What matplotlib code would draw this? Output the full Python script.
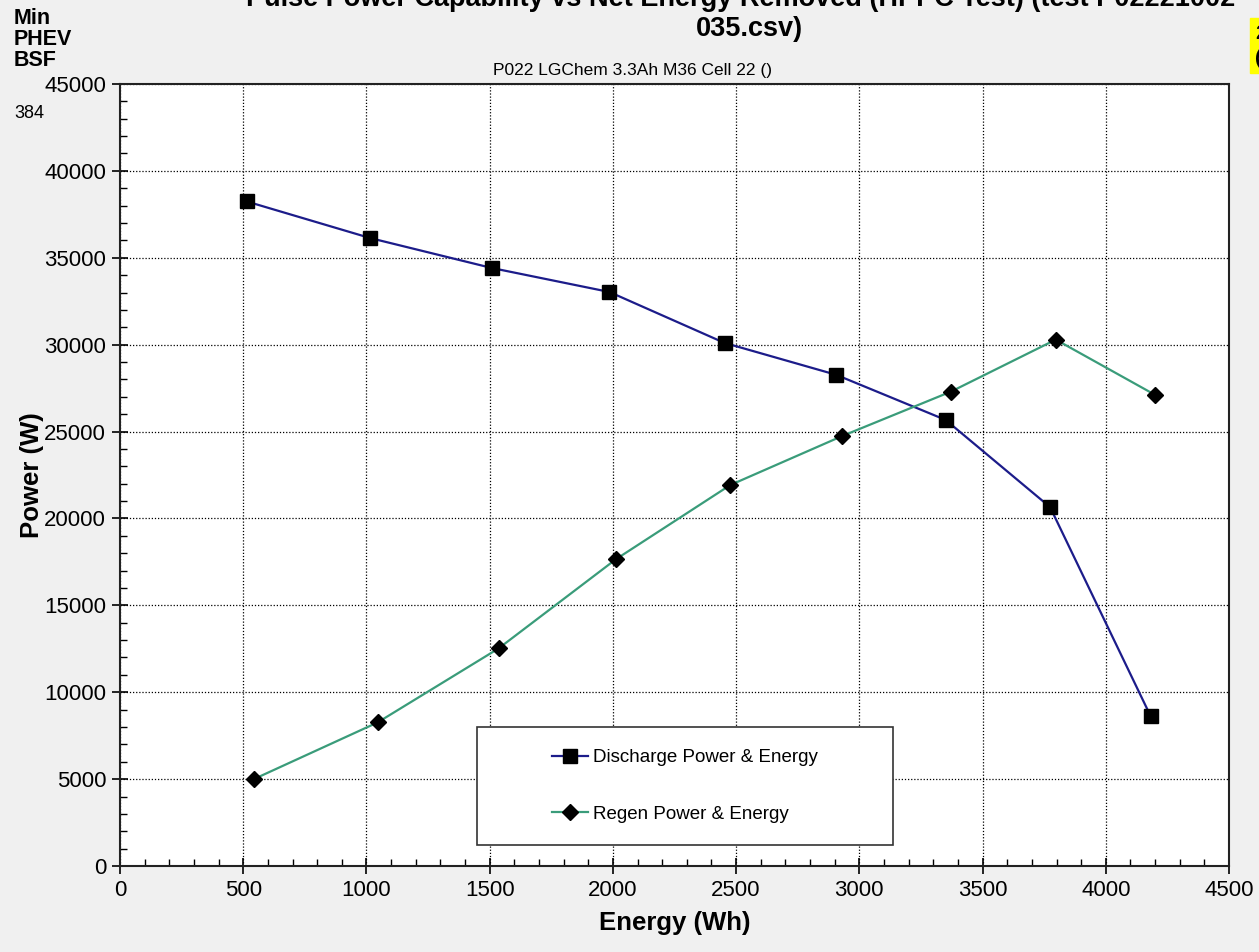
import matplotlib
matplotlib.use("Agg")
import matplotlib.pyplot as plt
from matplotlib.patches import Rectangle
from matplotlib.ticker import MultipleLocator

plt.rcParams['font.family'] = ['Liberation Sans', 'DejaVu Sans']

# Discharge pulse power vs. net energy removed
discharge_energy = [514, 1016, 1509, 1986, 2453, 2905, 3350, 3774, 4182]
discharge_power = [38240, 36130, 34410, 33030, 30100, 28270, 25670, 20650, 8620]

# Regen pulse power vs. net energy removed
regen_energy = [543, 1045, 1536, 2013, 2476, 2930, 3372, 3797, 4200]
regen_power = [5000, 8260, 12520, 17660, 21920, 24740, 27300, 30290, 27110]

series_labels = ["Discharge Power & Energy", "Regen Power & Energy"]
title = "Pulse Power Capability vs Net Energy Removed (HPPC Test) (test P02221002 -\n035.csv)"
subtitle = "P022 LGChem 3.3Ah M36 Cell 22 ()"
x_label = "Energy (Wh)"
y_label = "Power (W)"

fig = plt.figure(figsize=(12.59, 9.52), dpi=100, facecolor='#f0f0f0')
ax = fig.add_axes([0.0953, 0.0903, 0.8809, 0.8215])
ax.set_facecolor('white')

ax.plot(discharge_energy, discharge_power, color='#1c1c8a', lw=1.6,
        marker='s', ms=10.5, mfc='black', mec='black', zorder=3,
        label=series_labels[0])
ax.plot(regen_energy, regen_power, color='#3a9c7a', lw=1.6,
        marker='D', ms=8, mfc='black', mec='black', zorder=3,
        label=series_labels[1])

ax.set_xlim(0, 4500)
ax.set_ylim(0, 45000)
ax.xaxis.set_major_locator(MultipleLocator(500))
ax.xaxis.set_minor_locator(MultipleLocator(100))
ax.yaxis.set_major_locator(MultipleLocator(5000))
ax.yaxis.set_minor_locator(MultipleLocator(1000))

ax.grid(True, which='major', color='black', linestyle=(0, (1, 1.5)), lw=0.9)
ax.set_axisbelow(True)
ax.tick_params(which='major', direction='inout', length=12, width=1.2,
               labelsize=16, colors='black', pad=4)
ax.tick_params(which='minor', direction='in', length=5, width=1.0)
for s in ax.spines.values():
    s.set_linewidth(1.5)
    s.set_color('#222222')

ax.set_xlabel(x_label, fontsize=18.5, fontweight='bold', labelpad=7)
ax.set_ylabel(y_label, fontsize=18.5, fontweight='bold', labelpad=0)

# Legend frame drawn as a panel, legend entries centred inside it
ax.add_patch(Rectangle((0.322, 0.0269), 0.375, 0.151, transform=ax.transAxes,
                       facecolor='white', edgecolor='#333333', lw=1.2, zorder=2.5))
ax.legend(loc='center', bbox_to_anchor=(0.5095, 0.1023), frameon=False,
          fontsize=13.5, labelspacing=2.1, handlelength=1.9, handletextpad=0.3,
          borderpad=0.0)

fig.text(0.595, 0.9855, title, ha='center', va='center', fontsize=19.5,
         fontweight='bold', linespacing=1.2, transform=fig.transFigure)
fig.text(0.502, 0.926, subtitle, ha='center', va='center', fontsize=12.5)
fig.text(0.011, 0.992, "Min\nPHEV\nBSF", ha='left', va='top', fontsize=15.5,
         fontweight='bold', linespacing=1.02)
fig.text(0.011, 0.881, "384", ha='left', va='center', fontsize=13)
fig.text(0.997, 0.975, "2\n(", ha='left', va='top', fontsize=15,
         fontweight='bold', backgroundcolor='#ffff00', linespacing=1.4)

fig.savefig('out.png', dpi=100, facecolor=fig.get_facecolor())
